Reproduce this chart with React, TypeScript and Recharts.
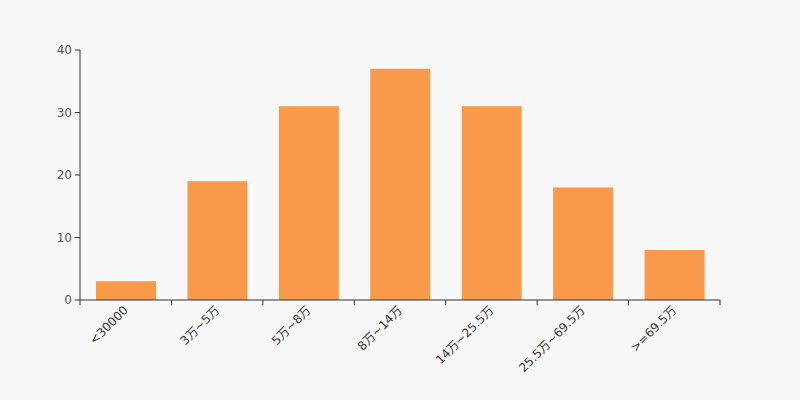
import React from "react";
import { BarChart, Bar, XAxis, YAxis } from "recharts";

const categories = ["<30000", "3万~5万", "5万~8万", "8万~14万", "14万~25.5万", "25.5万~69.5万", ">=69.5万"];
const counts = [3, 19, 31, 37, 31, 18, 8];
const yTicks = [0, 10, 20, 30, 40];

const data = categories.map((name, i) => ({ name, value: counts[i] }));

const FONT = "'DejaVu Sans', 'Noto Sans CJK SC', sans-serif";
const CHART_W = 800;
const MARGIN_RIGHT = 80;
const Y_AXIS_W = 80;
const HALF_BAND = (CHART_W - MARGIN_RIGHT - Y_AXIS_W) / categories.length / 2;

const RotTick = (props: any) => {
  const { x, y, payload, index } = props;
  const half = HALF_BAND;
  const axisY = y - 8;
  const isLast = index === categories.length - 1;
  return (
    <g>
      <line x1={x - half} x2={x - half} y1={axisY} y2={axisY + 5} stroke="#333" />
      {isLast && <line x1={x + half} x2={x + half} y1={axisY} y2={axisY + 5} stroke="#333" />}
      <g transform={`translate(${x},${y})`}>
        <text
          x={0}
          y={0}
          dy="0.35em"
          textAnchor="end"
          transform="rotate(-45)"
          fill="#333"
          fontSize={12}
          fontFamily={FONT}
        >
          {payload.value}
        </text>
      </g>
    </g>
  );
};

export default function App() {
  return (
    <div style={{ position: "fixed", left: 0, top: 0, width: 800, height: 400, background: "#f8f8f8" }}>
      <BarChart width={CHART_W} height={400} data={data} margin={{ top: 50, right: MARGIN_RIGHT, left: 0, bottom: 0 }}>
        <XAxis
          dataKey="name"
          interval={0}
          height={100}
          axisLine={{ stroke: "#333" }}
          tickLine={false}
          tickSize={5}
          tickMargin={3}
          tick={<RotTick />}
        />
        <YAxis
          width={Y_AXIS_W}
          domain={[0, 40]}
          ticks={yTicks}
          axisLine={{ stroke: "#333" }}
          tickLine={{ stroke: "#333" }}
          tickSize={5}
          tickMargin={3}
          tick={{ fill: "#555", fontSize: 12, fontFamily: FONT }}
        />
        <Bar dataKey="value" fill="#f99a4a" barSize={60} isAnimationActive={false} />
      </BarChart>
    </div>
  );
}
